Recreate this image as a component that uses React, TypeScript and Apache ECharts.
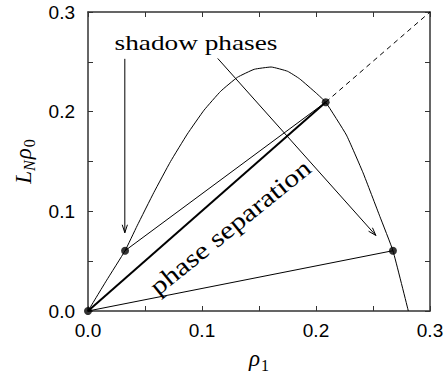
import React, { useEffect, useRef } from "react";
import * as echarts from "echarts";

// Binodal curve (rho_1, L_N rho_0)
const binodalX = [0, 0.016, 0.0325, 0.0431, 0.0578, 0.0724, 0.0871, 0.1018, 0.1164, 0.1311, 0.1458, 0.1606, 0.1751, 0.1856, 0.2003, 0.2085, 0.2267, 0.2413, 0.256, 0.2675, 0.281];
const binodalY = [0, 0.0302, 0.0605, 0.0855, 0.119, 0.150, 0.1775, 0.2015, 0.2205, 0.2345, 0.2425, 0.2448, 0.2405, 0.2330, 0.2185, 0.2095, 0.1765, 0.1386, 0.0949, 0.0605, 0.0];

// Coexisting states: origin, two shadow phases, parent on the diagonal
const stateX = [0, 0.0325, 0.2085, 0.2675];
const stateY = [0, 0.0605, 0.2095, 0.0605];

// Dilution line end
const diagEnd = [0.3, 0.3];

// Arrows pointing at the shadow phases: [startX, startY, tipX, tipY]
const arrowLeft = [0.0323, 0.253, 0.0323, 0.0785];
const arrowRight = [0.1138, 0.2534, 0.2525, 0.0758];

const tickLabels = [0, 0.1, 0.2, 0.3];

const AXIS_COLOR = "#333";
const SERIF = "Liberation Serif";
const SANS = "Liberation Sans";

function pt(i: number) {
  return [stateX[i], stateY[i]];
}

export default function App() {
  const ref = useRef<HTMLDivElement>(null);

  useEffect(() => {
    if (!ref.current) return;
    const chart = echarts.init(ref.current, undefined, { renderer: "svg" });

    const labelFmt = (v: number) =>
      tickLabels.some((t) => Math.abs(t - v) < 1e-9) ? v.toFixed(1) : "";

    const baseAxis = {
      type: "value" as const,
      min: 0,
      max: 0.3,
      interval: 0.1,
      splitLine: { show: false },
      axisLine: { show: true, onZero: false, lineStyle: { color: AXIS_COLOR, width: 1.5 } },
      axisTick: { show: true, inside: true, length: 5, lineStyle: { color: AXIS_COLOR, width: 1 } },
      minorTick: { show: true, splitNumber: 2, length: 5, lineStyle: { color: AXIS_COLOR, width: 1 } },
    };

    const nameRich = {
      i: { fontFamily: SERIF, fontStyle: "italic", fontSize: 23, color: "#000", verticalAlign: "top", padding: [0, 0, 0, 0] },
      s: { fontFamily: SERIF, fontStyle: "italic", fontSize: 16, color: "#000", verticalAlign: "top", padding: [10, 1, 0, 0] },
      d: { fontFamily: SERIF, fontSize: 16, color: "#000", verticalAlign: "top", padding: [10, 0, 0, 1] },
    };

    const line = (data: number[][], width: number, type: any = "solid") => ({
      type: "line",
      data,
      symbol: "none",
      silent: true,
      lineStyle: { color: "#000", width, type },
    });

    chart.setOption({
      animation: false,
      grid: { left: 88, right: 16, top: 12, bottom: 63, containLabel: false, outerBoundsMode: "none" },
      xAxis: [
        {
          ...baseAxis,
          position: "bottom",
          axisLabel: { formatter: labelFmt, fontSize: 19, color: "#000", fontFamily: SANS, margin: 10 },
          name: "{i|ρ}{d|1}",
          nameLocation: "middle",
          nameGap: 36,
          nameTextStyle: { rich: nameRich },
        },
        { ...baseAxis, position: "top", axisLabel: { show: false } },
      ],
      yAxis: [
        {
          ...baseAxis,
          position: "left",
          axisLabel: { formatter: labelFmt, fontSize: 19, color: "#000", fontFamily: SANS, margin: 13 },
          name: "{i|L}{s|N}{i|ρ}{d|0}",
          nameLocation: "middle",
          nameRotate: 90,
          nameGap: 49,
          nameTextStyle: { rich: nameRich },
        },
        { ...baseAxis, position: "right", axisLabel: { show: false } },
      ],
      series: [
        { ...line(binodalX.map((x, i) => [x, binodalY[i]]), 1), smooth: 0.12 },
        line([pt(0), pt(2)], 2),
        line([pt(1), pt(2)], 1),
        line([pt(0), pt(3)], 1),
        line([pt(2), diagEnd], 1, [5, 4]),
        line([[arrowLeft[0], arrowLeft[1]], [arrowLeft[2], arrowLeft[3]]], 1),
        line([[arrowRight[0], arrowRight[1]], [arrowRight[2], arrowRight[3]]], 1),
        {
          type: "scatter",
          data: stateX.map((x, i) => [x, stateY[i]]),
          symbolSize: 8,
          itemStyle: { color: "#000" },
          silent: true,
          z: 5,
        },
      ],
    });

    // Open arrowheads at the arrow tips, oriented along each shaft
    const heads = [arrowLeft, arrowRight].map((a) => {
      const s = chart.convertToPixel({ xAxisIndex: 0, yAxisIndex: 0 }, [a[0], a[1]]) as number[];
      const p = chart.convertToPixel({ xAxisIndex: 0, yAxisIndex: 0 }, [a[2], a[3]]) as number[];
      const dx = p[0] - s[0];
      const dy = p[1] - s[1];
      const len = Math.hypot(dx, dy);
      const ux = dx / len;
      const uy = dy / len;
      const L = 8;
      const W = 2.6;
      return {
        type: "polyline",
        silent: true,
        shape: {
          points: [
            [p[0] - ux * L - uy * W, p[1] - uy * L + ux * W],
            [p[0], p[1]],
            [p[0] - ux * L + uy * W, p[1] - uy * L - ux * W],
          ],
        },
        style: { stroke: "#000", lineWidth: 1, fill: null },
      };
    });

    chart.setOption({
      graphic: [
        ...heads,
        {
          type: "text",
          x: 196,
          y: 42.6,
          scaleX: 1.24,
          silent: true,
          style: {
            text: "shadow phases",
            fontSize: 22,
            fontFamily: SERIF,
            fill: "#000",
            align: "center",
            verticalAlign: "middle",
          },
        },
        {
          type: "text",
          x: 230,
          y: 227,
          rotation: (39 * Math.PI) / 180,
          scaleX: 1.2,
          silent: true,
          style: {
            text: "phase separation",
            fontSize: 25,
            fontFamily: SERIF,
            fill: "#000",
            align: "center",
            verticalAlign: "middle",
          },
        },
      ],
    });

    return () => chart.dispose();
  }, []);

  return (
    <div
      ref={ref}
      style={{ position: "fixed", left: 0, top: 0, width: 446, height: 374, background: "#fff" }}
    />
  );
}
